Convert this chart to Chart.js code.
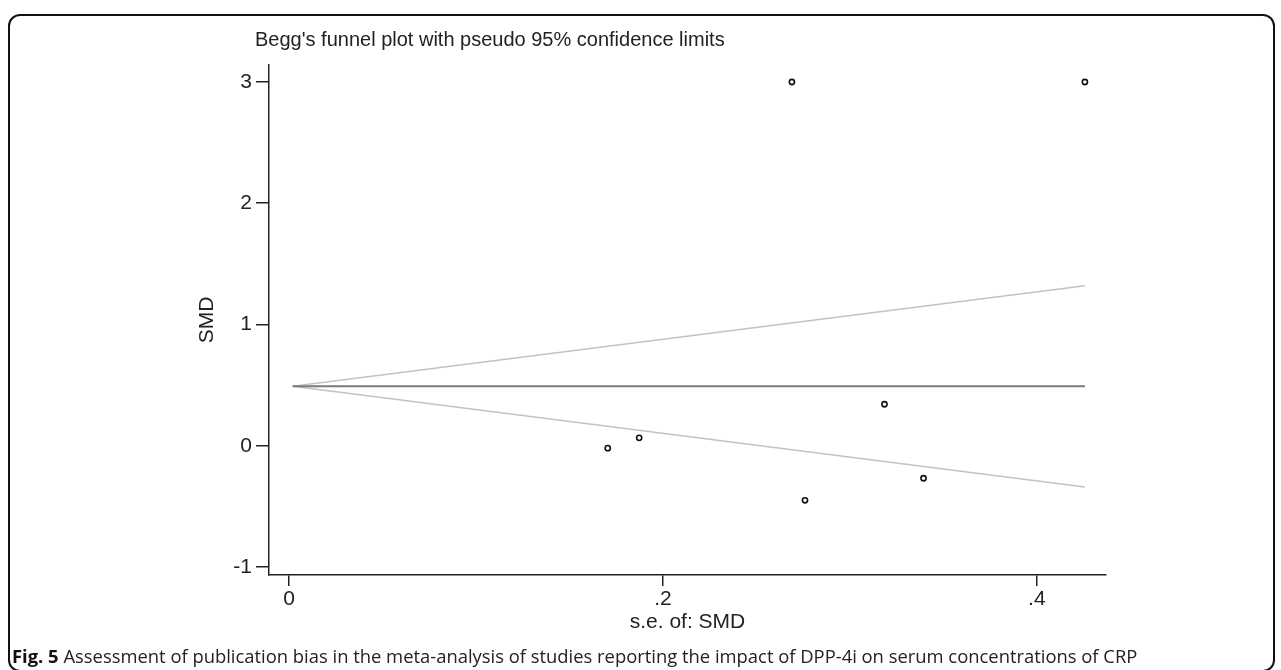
<!DOCTYPE html>
<html>
<head>
<meta charset="utf-8">
<script src="https://cdn.jsdelivr.net/npm/chart.js@4.4.1/dist/chart.umd.min.js"></script>
<style>
    html, body { margin: 0; padding: 0; background: #fff; }
    #wrap { position: relative; width: 1281px; height: 670px; overflow: hidden; }
    #frame {
        position: absolute; left: 8px; top: 14px; width: 1263px; height: 654px;
        border: 2px solid #111; border-radius: 12px;
    }
    #plot { position: absolute; left: 0; top: 0; }
    #title {
        position: absolute; left: 255px; top: 28px;
        font: 20px "Liberation Sans", Arial, sans-serif; color: #222; white-space: nowrap;
    }
    #caption {
        position: absolute; left: 12px; top: 643px;
        font: 18.4px "Open Sans", "Noto Sans", sans-serif; color: #222; white-space: nowrap;
    }
    #caption b { color: #111; }
</style>
</head>
<body>
<div id="wrap">
    <div id="frame"></div>
    <canvas id="plot" width="1281" height="670"></canvas>
    <div id="title">Begg's funnel plot with pseudo 95% confidence limits</div>
    <div id="caption"><b>Fig. 5</b> Assessment of publication bias in the meta-analysis of studies reporting the impact of DPP-4i on serum concentrations of CRP</div>
</div>
<script>
// Begg's funnel plot — study points, pooled estimate, pseudo 95% limits

const seValues  = [0.1705, 0.1873, 0.269, 0.276, 0.3185, 0.3394, 0.4257];
const smdValues = [-0.02, 0.065, 3.0, -0.45, 0.342, -0.268, 3.0];

// pooled line and limits, read at the two ends of the funnel
const limitSe    = [0.002, 0.4257];
const pooledSmd  = [0.49, 0.49];
const upperLimit = [0.49, 1.32];
const lowerLimit = [0.49, -0.34];

const xTicks = [0, 0.2, 0.4];
const yTicks = [-1, 0, 1, 2, 3];

const toXY = (xs, ys) => xs.map((x, i) => ({ x, y: ys[i] }));
const tickFont = { family: '"Liberation Sans", Arial, sans-serif', size: 21 };

const lineSet = (label, ys, color, width) => ({
    type: 'line',
    label,
    data: toXY(limitSe, ys),
    borderColor: color,
    borderWidth: width,
    pointRadius: 0,
    fill: false,
    order: 2,
});

new Chart(document.getElementById('plot'), {
    type: 'scatter',
    data: {
        datasets: [
            {
                label: 'Studies',
                data: toXY(seValues, smdValues),
                pointStyle: 'circle',
                pointRadius: 2.6,
                pointBorderWidth: 1.6,
                pointBorderColor: '#111',
                pointBackgroundColor: '#fff',
                order: 1,
            },
            lineSet('Pooled', pooledSmd, '#7a7a7a', 2),
            lineSet('Upper limit', upperLimit, '#c2c2c2', 1.5),
            lineSet('Lower limit', lowerLimit, '#c2c2c2', 1.5),
        ],
    },
    options: {
        responsive: false,
        animation: false,
        layout: { padding: { left: 0, top: 65, right: 175, bottom: 25 } },
        plugins: {
            legend: { display: false },
            tooltip: { enabled: false },
        },
        scales: {
            x: {
                type: 'linear',
                min: -0.0107,
                max: 0.437,
                afterBuildTicks: s => { s.ticks = xTicks.map(v => ({ value: v })); },
                afterFit: s => { s.height = 70; },
                ticks: {
                    color: '#222', font: tickFont, padding: 1, maxRotation: 0,
                    callback: v => v === 0 ? '0' : String(v).replace(/^0/, ''),
                },
                grid: { drawOnChartArea: false, drawTicks: true, tickLength: 11, color: '#222', lineWidth: 1.5 },
                border: { display: true, color: '#222', width: 1.5 },
                title: { display: true, text: 's.e. of: SMD', color: '#222', font: tickFont, padding: { top: 0, bottom: 10 } },
            },
            y: {
                type: 'linear',
                min: -1.066,
                max: 3.14,
                afterBuildTicks: s => { s.ticks = yTicks.map(v => ({ value: v })); },
                afterFit: s => { s.width = 269; },
                ticks: { color: '#222', font: tickFont, padding: 4 },
                grid: { drawOnChartArea: false, drawTicks: true, tickLength: 13, color: '#222', lineWidth: 1.5 },
                border: { display: true, color: '#222', width: 1.5 },
                title: { display: true, text: 'SMD', color: '#222', font: tickFont, padding: { top: 195, bottom: 0 } },
            },
        },
    },
});
</script>
</body>
</html>
